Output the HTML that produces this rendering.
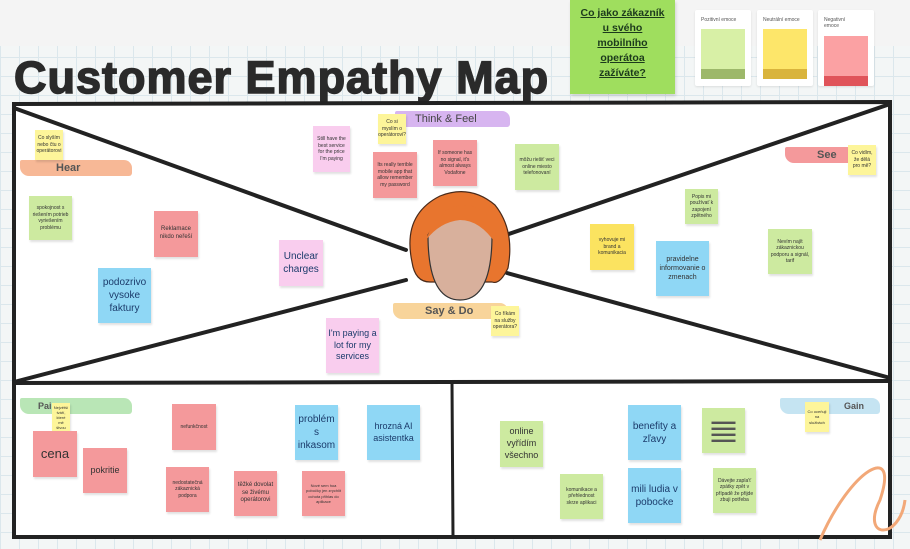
<!DOCTYPE html>
<html><head><meta charset="utf-8"><style>
body{margin:0;width:910px;height:549px;overflow:hidden;font-family:"Liberation Sans",sans-serif;
background-color:#f3f6f6;background-image:linear-gradient(#dbe7ec 1px,transparent 1px),linear-gradient(90deg,#dbe7ec 1px,transparent 1px);background-size:19px 19px;position:relative}
.s{position:absolute;display:flex;align-items:center;justify-content:center;text-align:center;color:#333;font-size:5px;line-height:1.3;box-shadow:1px 2px 2px rgba(0,0,0,.12);padding:2px;box-sizing:border-box}
.y{background:#fdf59a}.g{background:#cdeaa0}.r{background:#f4999b}.b{background:#8fd7f5}.p{background:#f9cdee}.o{background:#fbe360}
.big{font-size:10px;color:#1b3b6b}
.lbl{position:absolute;height:16px;font-size:11px;font-weight:bold;color:#555;display:flex;align-items:center;border-radius:2px 8px 3px 9px}
.card{position:absolute;background:#fff;top:10px;width:56px;height:76px;border-radius:2px;box-shadow:0 1px 2px rgba(0,0,0,.1)}
.card span{position:absolute;left:6px;top:7px;font-size:5px;color:#555}
.card div{position:absolute;left:6px;top:19px;width:44px;height:50px}
</style></head><body>
<div style="position:absolute;left:0;top:0;width:910px;height:46px;background:#f4f4f4"></div>
<div style="position:absolute;left:14px;top:52px;font-size:45px;font-weight:bold;color:#2a2a2a;letter-spacing:1px;-webkit-text-stroke:1.5px #2a2a2a">Customer Empathy Map</div>
<div style="position:absolute;left:570px;top:0;width:105px;height:94px;background:#9fde5e;box-shadow:1px 2px 3px rgba(0,0,0,.15);text-align:center;font-size:10.5px;font-weight:bold;color:#1c3a1c;text-decoration:underline;line-height:15px;padding-top:6px;box-sizing:border-box">Co jako zákazník<br>u svého<br>mobilního<br>operátoa<br>zažíváte?</div>
<div class="card" style="left:695px"><span>Pozitivní emoce</span><div style="background:linear-gradient(#d8f0a6 80%,#9db86a 80%)"></div></div>
<div class="card" style="left:757px"><span>Neutrální emoce</span><div style="background:linear-gradient(#fde66a 80%,#d9b43c 80%)"></div></div>
<div class="card" style="left:818px"><span>Negativní<br>emoce</span><div style="top:26px;background:linear-gradient(#fba1a3 80%,#e0545a 80%)"></div></div>

<svg style="position:absolute;left:0;top:0" width="910" height="549">
<rect x="14" y="103" width="876" height="434" fill="#fff"/>
<g stroke="#222" fill="none" stroke-linecap="round">
<path d="M14 104 L890 102 L890 537 L14 537 Z" stroke-width="4"/>
<path d="M14 383 L890 381" stroke-width="4"/>
<path d="M452 383 L453 537" stroke-width="3"/>
<path d="M14 108 L406 250" stroke-width="4"/>
<path d="M14 382 L406 280" stroke-width="4"/>
<path d="M890 104 L503 236" stroke-width="4"/>
<path d="M890 378 L507 273" stroke-width="4"/>
</g>
<path d="M820 540 C850 470 900 440 880 500 C860 540 900 540 905 500" stroke="#f2a878" stroke-width="3" fill="none"/>
<path d="M412 262 Q402 215 440 196 Q470 184 495 205 Q515 230 508 268 Q500 285 492 282 L430 282 Q415 282 412 262Z" fill="#e8752e" stroke="#4a2a1a" stroke-width="1.2"/>
<path d="M428 235 Q428 300 460 300 Q492 300 492 235 Q480 214 460 214 Q440 214 428 235Z" fill="#d8b09c" stroke="#333" stroke-width="1.2"/>
<path d="M426 240 Q440 200 472 206 Q498 214 496 244 Q480 220 460 220 Q440 222 426 240Z" fill="#e8752e"/>
</svg>

<div class="lbl" style="left:20px;top:160px;width:112px;background:#f7b896;padding-left:36px;box-sizing:border-box">Hear</div>
<div class="lbl" style="left:395px;top:111px;width:115px;background:#d7b5f0;padding-left:20px;box-sizing:border-box;font-weight:normal;color:#444">Think &amp; Feel</div>
<div class="lbl" style="left:785px;top:147px;width:70px;background:#f4999b;padding-left:32px;box-sizing:border-box">See</div>
<div class="lbl" style="left:393px;top:303px;width:115px;background:#f8d49a;padding-left:32px;box-sizing:border-box">Say &amp; Do</div>
<div class="lbl" style="left:20px;top:398px;width:112px;background:#b9e6b6;padding-left:18px;box-sizing:border-box;font-size:9px">Pain</div>
<div class="lbl" style="left:780px;top:398px;width:100px;background:#c5e4f2;padding-left:64px;box-sizing:border-box;font-size:9px">Gain</div>

<div class="s y" style="left:35px;top:130px;width:28px;height:30px">Co slyším nebo čtu o operátorovi</div>
<div class="s g" style="left:29px;top:196px;width:43px;height:44px">spokojnost s riešením potrieb vyriešením problému</div>
<div class="s r" style="left:154px;top:211px;width:44px;height:46px;font-size:6px">Reklamace nikdo neřeší</div>
<div class="s b big" style="left:98px;top:268px;width:53px;height:55px">podozrivo vysoke faktury</div>
<div class="s p big" style="left:279px;top:240px;width:44px;height:46px">Unclear charges</div>
<div class="s p big" style="left:326px;top:318px;width:53px;height:55px;font-size:9px">I'm paying a lot for my services</div>
<div class="s p" style="left:313px;top:126px;width:37px;height:46px">Still have the best service for the price I'm paying</div>
<div class="s y" style="left:378px;top:114px;width:28px;height:30px">Co si myslím o operátorovi?</div>
<div class="s r" style="left:373px;top:152px;width:44px;height:46px">Its really terrible mobile app that allow remember my password</div>
<div class="s r" style="left:433px;top:140px;width:44px;height:46px">If someone has no signal, it's almost always Vodafone</div>
<div class="s g" style="left:515px;top:144px;width:44px;height:46px">môžu riešiť veci online miesto telefonovaní</div>
<div class="s o" style="left:590px;top:224px;width:44px;height:46px">vyhovuje mi brand a komunikacia</div>
<div class="s g" style="left:685px;top:189px;width:33px;height:35px">Popis mi používať k zapojení zpětného</div>
<div class="s b" style="left:656px;top:241px;width:53px;height:55px;font-size:7px">pravidelne informovanie o zmenach</div>
<div class="s g" style="left:768px;top:229px;width:44px;height:45px">Nevím najít zákaznickou podporu a signál, tarif</div>
<div class="s y" style="left:848px;top:145px;width:28px;height:30px">Co vidím, že dělá pro mě?</div>
<div class="s y" style="left:491px;top:306px;width:28px;height:30px">Co říkám na služby operátora?</div>

<div class="s y" style="left:52px;top:403px;width:18px;height:29px;font-size:4px">Největší tváří, které mě štvou</div>
<div class="s r" style="left:33px;top:431px;width:44px;height:46px;font-size:13px">cena</div>
<div class="s r" style="left:83px;top:448px;width:44px;height:45px;font-size:9px">pokritie</div>
<div class="s r" style="left:172px;top:404px;width:44px;height:46px">nefunkčnost</div>
<div class="s r" style="left:166px;top:467px;width:43px;height:45px">nedostatečná zákaznická podpora</div>
<div class="s r" style="left:234px;top:471px;width:43px;height:45px;font-size:6px">těžké dovolat se živému operátorovi</div>
<div class="s r" style="left:302px;top:471px;width:43px;height:45px;font-size:4px">Nové sem hoa pobočky jen zrychlit ochota přihlas do aplikace</div>
<div class="s b big" style="left:295px;top:405px;width:43px;height:55px">problém s inkasom</div>
<div class="s b" style="left:367px;top:405px;width:53px;height:55px;font-size:9px;color:#1b3b6b">hrozná AI asistentka</div>
<div class="s g" style="left:500px;top:421px;width:43px;height:46px;font-size:9px">online vyřídím všechno</div>
<div class="s g" style="left:560px;top:474px;width:43px;height:45px">komunikace a přehlednost skrze aplikaci</div>
<div class="s b big" style="left:628px;top:405px;width:53px;height:55px">benefity a zľavy</div>
<div class="s b big" style="left:628px;top:468px;width:53px;height:55px">mili ludia v pobocke</div>
<div class="s g" style="left:702px;top:408px;width:43px;height:45px;font-size:8px;line-height:6px;color:#555">▬▬▬<br>▬▬▬<br>▬▬▬<br>▬▬▬</div>
<div class="s g" style="left:713px;top:468px;width:43px;height:45px">Dávejte zapla'ť zpátky zpět v případě že přijde zbuji potřeba</div>
<div class="s y" style="left:805px;top:402px;width:24px;height:30px;font-size:4px">Co oceňuji na službách</div>
</body></html>
